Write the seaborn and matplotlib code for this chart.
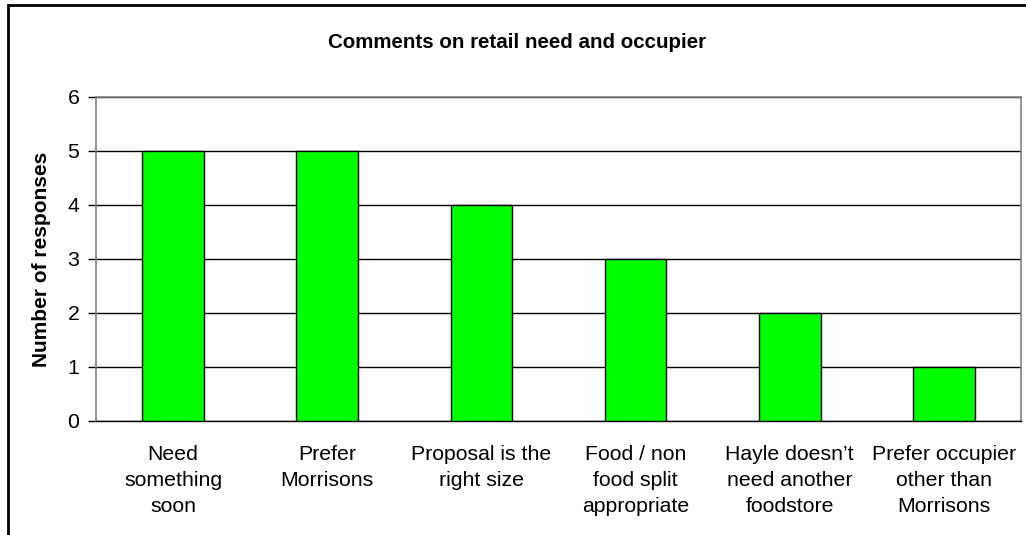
import matplotlib
matplotlib.use("Agg")
import matplotlib.pyplot as plt
import seaborn as sns
import pandas as pd
from matplotlib.patches import Rectangle

categories = [
    "Need\nsomething\nsoon",
    "Prefer\nMorrisons",
    "Proposal is the\nright size",
    "Food / non\nfood split\nappropriate",
    "Hayle doesn\u2019t\nneed another\nfoodstore",
    "Prefer occupier\nother than\nMorrisons",
]
responses = [5, 5, 4, 3, 2, 1]
y_ticks = [0, 1, 2, 3, 4, 5, 6]

sns.set_style("white")
plt.rcParams['font.family'] = ['Liberation Sans', 'DejaVu Sans']
plt.rcParams['text.color'] = 'black'
plt.rcParams['axes.labelcolor'] = 'black'
plt.rcParams['xtick.color'] = 'black'
plt.rcParams['ytick.color'] = 'black'

df = pd.DataFrame({"comment": categories, "count": responses})

fig = plt.figure(figsize=(10.26, 5.35), dpi=100)
ax = fig.add_axes([96 / 1026, 1 - 421 / 535, (1021 - 96) / 1026, (421 - 97) / 535])

sns.barplot(data=df, x="comment", y="count", color="#00FF00", saturation=1,
            width=0.4, edgecolor="black", linewidth=1, ax=ax, zorder=3)

ax.set_ylim(0, 6)
ax.set_xlim(-0.5, len(categories) - 0.5)
ax.set_yticks(y_ticks)
ax.yaxis.grid(True, color="black", linewidth=1)
ax.set_axisbelow(True)
for s in ["left", "right", "top"]:
    ax.spines[s].set_color("#808080")
    ax.spines[s].set_linewidth(1.2)
ax.spines["bottom"].set_color("black")
ax.spines["bottom"].set_linewidth(1)

# x ticks sit on category boundaries
ax.set_xticks(range(len(categories)))
ax.set_xticklabels(categories, fontsize=15.3, linespacing=1.47)
ax.tick_params(axis="x", length=0, pad=17)
ax.set_xticks([i + 0.5 for i in range(len(categories) - 1)], minor=True)
ax.tick_params(axis="x", which="minor", length=6, width=1, color="black", direction="out")
ax.tick_params(axis="y", length=6, width=1, color="black", direction="out", labelsize=15.3, pad=6)
ax.tick_params(axis="both", bottom=True, left=True)

ax.set_xlabel("")
ax.set_ylabel("Number of responses", fontsize=15, fontweight="bold", labelpad=12)
fig.text(517 / 1026, 1 - 48 / 535, "Comments on retail need and occupier",
         ha="center", va="baseline", fontsize=14.8, fontweight="bold")

fig.patches.append(Rectangle((8 / 1026, -0.1), 1.1, 1 - 5 / 535 + 0.1,
                             transform=fig.transFigure, fill=False,
                             edgecolor="black", linewidth=2))

fig.savefig("out.png", dpi=100)
